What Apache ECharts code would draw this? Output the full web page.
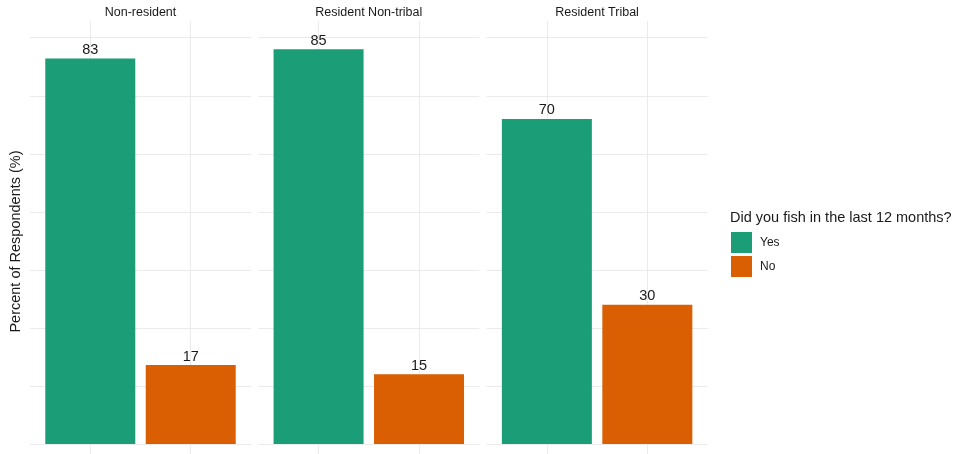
<!DOCTYPE html>
<html><head><meta charset="utf-8">
<script src="https://cdn.jsdelivr.net/npm/echarts@6/dist/echarts.min.js"></script>
<style>html,body{margin:0;padding:0;background:#fff}#c{width:956px;height:454px}</style>
</head><body><div id="c"></div>
<script>
const panels = ['Non-resident', 'Resident Non-tribal', 'Resident Tribal'];
const answers = ['Yes', 'No'];
const yesValues = [83, 85, 70];
const noValues = [17, 15, 30];
const gridValues = [0, 12.5, 25, 37.5, 50, 62.5, 75, 87.5];
const colors = {Yes: '#1B9E77', No: '#D95F02'};
const FONT = 'Liberation Sans, Arial, sans-serif';
const GRID = '#EBEBEB';

const chart = echarts.init(document.getElementById('c'), null, {renderer: 'canvas'});
const lefts = [30, 258.3, 486.6];
const grids = [], xAxes = [], yAxes = [], series = [], titles = [];
panels.forEach((p, i) => {
  grids.push({left: lefts[i], top: 21, width: 221, height: 433, containLabel: false});
  xAxes.push({type: 'value', gridIndex: i, min: 0.4, max: 2.6, show: false});
  yAxes.push({type: 'value', gridIndex: i, min: -2.15, max: 91.1, show: false});
  // gridlines (behind bars)
  series.push({type: 'line', xAxisIndex: i, yAxisIndex: i, data: [], zlevel: 0, z: 1, silent: true,
    markLine: {silent: true, symbol: 'none', animation: false,
      label: {show: false}, emphasis: {disabled: true},
      lineStyle: {color: GRID, width: 1, type: 'solid'},
      data: gridValues.map(v => ({yAxis: v})).concat([{xAxis: 1}, {xAxis: 2}])}});
  const vals = {Yes: yesValues[i], No: noValues[i]};
  answers.forEach((a, j) => {
    series.push({name: a, type: 'bar', xAxisIndex: i, yAxisIndex: i, zlevel: 1, z: 3,
      data: [[j + 1, vals[a]]], barWidth: 90, barGap: '-100%',
      itemStyle: {color: colors[a]},
      label: {show: true, position: 'top', distance: 1, fontFamily: FONT, fontSize: 14.5, color: '#1A1A1A',
        formatter: (d) => d.value[1]}});
  });
  titles.push({text: p, left: lefts[i] + 110.5, top: 6, padding: 0, textAlign: 'center',
    textStyle: {fontFamily: FONT, fontSize: 12.5, fontWeight: 'normal', color: '#1A1A1A'}});
});
titles.push({text: 'Did you fish in the last 12 months?', left: 730, top: 210, padding: 0,
  textStyle: {fontFamily: FONT, fontSize: 14.5, fontWeight: 'normal', color: '#1A1A1A'}});

chart.setOption({
  animation: false,
  backgroundColor: '#fff',
  title: titles,
  grid: grids, xAxis: xAxes, yAxis: yAxes, series: series,
  legend: {data: answers, orient: 'vertical', left: 731, top: 232, padding: 0, itemWidth: 21, itemHeight: 21, itemGap: 3,
    icon: 'rect', textStyle: {fontFamily: FONT, fontSize: 12, color: '#1A1A1A', padding: [0, 0, 0, 3]}, selectedMode: false},
  graphic: [{type: 'text', x: 16, y: 241.5, rotation: Math.PI / 2,
    style: {text: 'Percent of Respondents (%)', fontFamily: FONT, fontSize: 14.5, fill: '#1A1A1A',
      align: 'center', verticalAlign: 'middle'}}]
});
</script></body></html>
